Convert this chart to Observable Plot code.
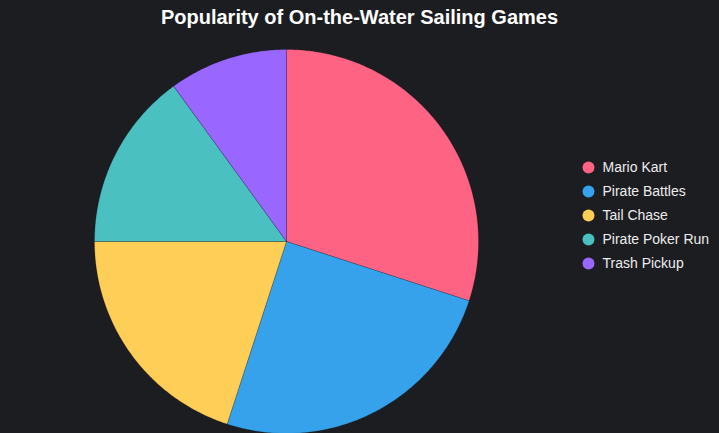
<!DOCTYPE html>
<html>
<head>
<meta charset="utf-8">
<script src="https://cdn.jsdelivr.net/npm/d3@7"></script>
<script src="https://cdn.jsdelivr.net/npm/@observablehq/plot@0.6"></script>
<style>
  html, body { margin: 0; padding: 0; background: #1c1d21; }
  body { width: 719px; height: 433px; overflow: hidden; font-family: "Liberation Sans", Arial, sans-serif; }
  #title { height: 33px; line-height: 34px; text-align: center; color: #ffffff; font-weight: bold; font-size: 20px; }
  #chart svg { display: block; }
</style>
</head>
<body>
<div id="title">Popularity of On-the-Water Sailing Games</div>
<div id="chart"></div>
<script>
const categories = ["Mario Kart", "Pirate Battles", "Tail Chase", "Pirate Poker Run", "Trash Pickup"];
const values = [30, 25, 20, 15, 10];
const colors = ["#FF6384", "#36A2EB", "#FFCE56", "#4BC0C0", "#9966FF"];

const R = 192;
const pie = d3.pie().sort(null).value(d => d.value);
const arcs = pie(categories.map((name, i) => ({name, value: values[i]})));

// build slice outlines (center + arc points) for Plot.line with fill
const slicePts = [];
for (const a of arcs) {
  const n = Math.max(2, Math.ceil((a.endAngle - a.startAngle) / 0.01));
  slicePts.push({name: a.data.name, x: 0, y: 0});
  for (let k = 0; k <= n; k++) {
    const t = a.startAngle + (a.endAngle - a.startAngle) * k / n;
    slicePts.push({name: a.data.name, x: R * Math.sin(t), y: R * Math.cos(t)});
  }
  slicePts.push({name: a.data.name, x: 0, y: 0});
}

const legend = categories.map((name, i) => ({name, i}));
const lx = 302, ly0 = 74, lstep = 24;

const plot = Plot.plot({
  width: 719,
  height: 400,
  margin: 0,
  style: {background: "#1c1d21"},
  x: {domain: [-286, 433], range: [0, 719], axis: null},
  y: {domain: [-192, 208], range: [400, 0], axis: null},
  color: {domain: categories, range: colors},
  marks: [
    Plot.line(slicePts, {x: "x", y: "y", z: "name", fill: "name", stroke: "#000", strokeOpacity: 0.18, strokeWidth: 1, curve: "linear"}),
    Plot.dot(legend, {x: () => lx, y: d => ly0 - d.i * lstep, r: 6, fill: "name", stroke: null}),
    Plot.text(legend, {x: () => lx + 14, y: d => ly0 - d.i * lstep, text: "name", textAnchor: "start", fill: "#ececec", fontSize: 14, fontFamily: "Liberation Sans, Arial, sans-serif"})
  ]
});
document.getElementById("chart").appendChild(plot);
</script>
</body>
</html>
